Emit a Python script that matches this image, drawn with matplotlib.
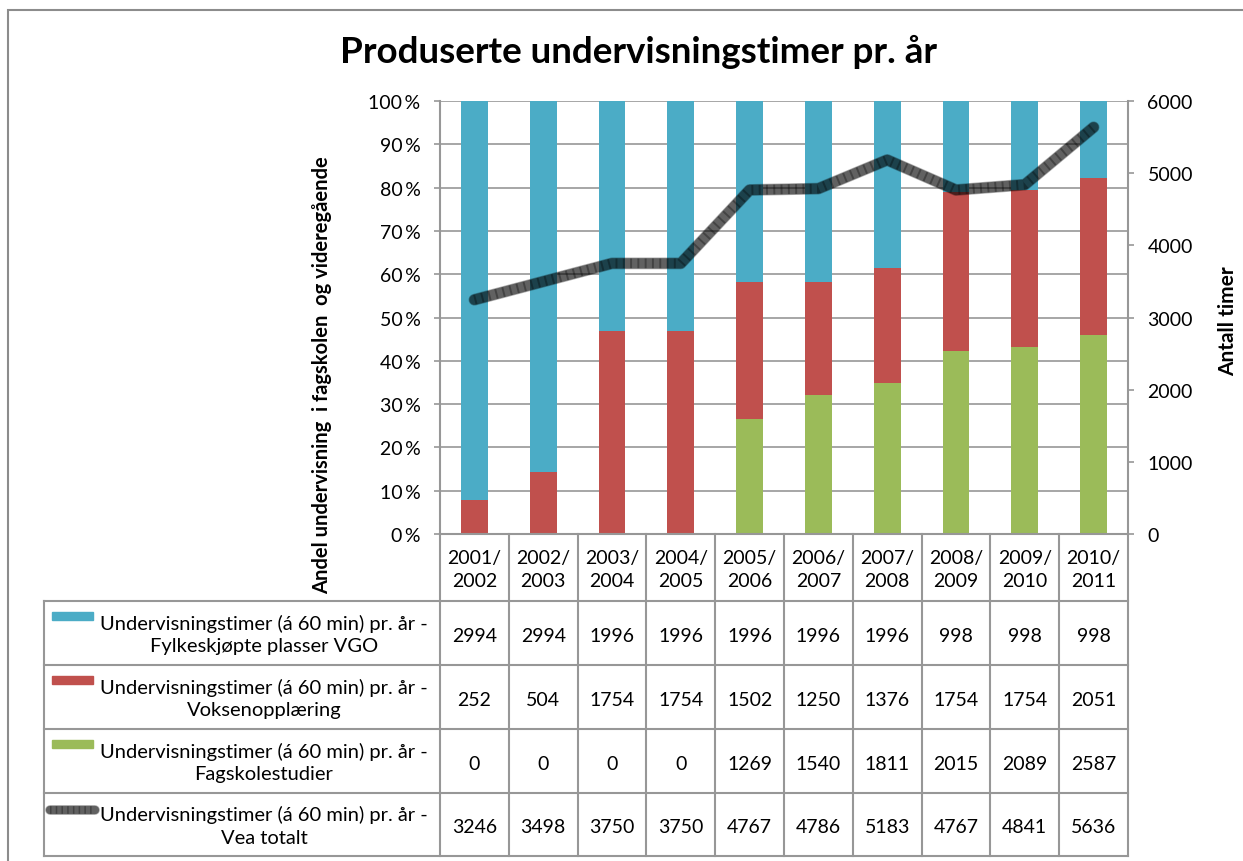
import numpy as np
import matplotlib.pyplot as plt
import matplotlib.patheffects as pe
from matplotlib.patches import Rectangle

plt.rcParams['font.family'] = ['Lato', 'DejaVu Sans']

# data
years = ["2001/\n2002", "2002/\n2003", "2003/\n2004", "2004/\n2005", "2005/\n2006",
         "2006/\n2007", "2007/\n2008", "2008/\n2009", "2009/\n2010", "2010/\n2011"]
vgo = [2994, 2994, 1996, 1996, 1996, 1996, 1996, 998, 998, 998]
voksen = [252, 504, 1754, 1754, 1502, 1250, 1376, 1754, 1754, 2051]
fagskole = [0, 0, 0, 0, 1269, 1540, 1811, 2015, 2089, 2587]
totalt = [3246, 3498, 3750, 3750, 4767, 4786, 5183, 4767, 4841, 5636]

series_names = ["Undervisningstimer (á 60 min) pr. år -\nFylkeskjøpte plasser VGO",
                "Undervisningstimer (á 60 min) pr. år -\nVoksenopplæring",
                "Undervisningstimer (á 60 min) pr. år -\nFagskolestudier",
                "Undervisningstimer (á 60 min) pr. år -\nVea totalt"]

c_blue = '#4BACC6'
c_red = '#C0504D'
c_green = '#9BBB59'
gridc = '#979797'

W, H = 1243, 862


def fx(px):
    return px / W


def fy(py):
    return 1 - py / H


fig = plt.figure(figsize=(W / 100, H / 100), dpi=100)

# outer chart border
fig.add_artist(Rectangle((fx(8), fy(875)), fx(1260) - fx(8), fy(11) - fy(875),
                         transform=fig.transFigure, fill=False, edgecolor='#8c8c8c', lw=1.5))

ax = fig.add_axes([fx(440), fy(535), fx(1128) - fx(440), fy(102) - fy(535)])
ax2 = ax.twinx()

x = np.arange(len(years))
vgo_a = np.array(vgo, dtype=float)
vok_a = np.array(voksen, dtype=float)
fag_a = np.array(fagskole, dtype=float)
tot = vgo_a + vok_a + fag_a

bw = 0.39
ax.bar(x, fag_a / tot, bw, color=c_green, zorder=2)
ax.bar(x, vok_a / tot, bw, bottom=fag_a / tot, color=c_red, zorder=2)
ax.bar(x, vgo_a / tot, bw, bottom=(fag_a + vok_a) / tot, color=c_blue, zorder=2)

ax.set_xlim(-0.5, len(years) - 0.5)
ax.set_ylim(0, 1)
ax.set_yticks(np.arange(0, 1.01, 0.1))
ax.set_yticklabels([f"{int(round(v * 100))}\u2009%" for v in np.arange(0, 1.01, 0.1)], fontsize=14)
ax.set_xticks([])
ax.yaxis.grid(True, color=gridc, lw=1.2)
ax.set_axisbelow(True)
ax.tick_params(axis='y', length=4, color=gridc, width=1.2, pad=10)
for s in ['top', 'right']:
    ax.spines[s].set_visible(False)
for s in ['left', 'bottom']:
    ax.spines[s].set_color(gridc)
    ax.spines[s].set_linewidth(1.5)

# total hours line, secondary axis
ax2.plot(x, totalt, color=(0, 0, 0, 0.45), lw=7.5, solid_capstyle='round', solid_joinstyle='round',
         path_effects=[pe.Stroke(linewidth=8.5, foreground=(0, 0, 0, 0.3)), pe.Normal()], zorder=3)
ax2.plot(x, totalt, color=(0, 0, 0, 0.3), lw=7.0, dashes=(0.2, 0.55), dash_capstyle='butt', zorder=4)
ax2.set_ylim(0, 6000)
ax2.set_yticks(range(0, 6001, 1000))
ax2.tick_params(axis='y', length=4, color=gridc, width=1.2, labelsize=14, pad=10)
for s in ['top', 'left', 'bottom']:
    ax2.spines[s].set_visible(False)
ax2.spines['right'].set_color(gridc)
ax2.spines['right'].set_linewidth(1.5)

# titles and axis labels
fig.text(fx(638), fy(52), "Produserte undervisningstimer pr. år", ha='center', va='center',
         fontsize=26.5, fontweight='bold')
fig.text(fx(322), fy(375), "Andel undervisning  i fagskolen  og videregående", rotation=90,
         ha='center', va='center', fontsize=14.5, fontweight='bold')
fig.text(fx(1228), fy(321), "Antall timer", rotation=90, ha='center', va='center',
         fontsize=15, fontweight='bold')

# data table below the chart
tab = fig.add_axes([fx(44), fy(857), fx(1128) - fx(44), fy(535) - fy(857)])
colw = (1128 - 440) / len(years)
x_left = -0.5 - (440 - 44) / colw
tab.set_xlim(x_left, len(years) - 0.5)
tab.set_ylim(322, 0)
tab.axis('off')


def px2c(px):
    return -0.5 + (px - 440) / colw


row_edges = [0, 67, 131, 195, 259, 322]
for k in range(len(years) + 1):
    tab.plot([k - 0.5, k - 0.5], [0, 322], color=gridc, lw=1.5, clip_on=False)
tab.plot([x_left, x_left], [67, 322], color=gridc, lw=1.5, clip_on=False)
for yy in row_edges[1:]:
    tab.plot([x_left, len(years) - 0.5], [yy, yy], color=gridc, lw=1.5, clip_on=False)

for i, lab in enumerate(years):
    tab.text(i, 35, lab, ha='center', va='center', fontsize=14, linespacing=1.45)

rows = [vgo, voksen, fagskole, totalt]
for r, vals in enumerate(rows):
    top = row_edges[r + 1]
    bot = row_edges[r + 2]
    mid = (top + bot) / 2
    for i, v in enumerate(vals):
        tab.text(i, mid + 2, str(v), ha='center', va='center', fontsize=14)
    tab.text(px2c(100), mid + 1, series_names[r], ha='left', va='center', multialignment='center',
             fontsize=14.5, linespacing=1.4)

key_colors = [c_blue, c_red, c_green]
for r, c in enumerate(key_colors):
    top = row_edges[r + 1]
    tab.add_patch(Rectangle((px2c(52), top + 11), px2c(93) - px2c(52), 8, color=c, clip_on=False))
ly = row_edges[4] + 17
tab.plot([px2c(50), px2c(95)], [ly, ly], color=(0, 0, 0, 0.45), lw=6, solid_capstyle='round',
         path_effects=[pe.Stroke(linewidth=7, foreground=(0, 0, 0, 0.3)), pe.Normal()], clip_on=False)
tab.plot([px2c(50), px2c(95)], [ly, ly], color=(0, 0, 0, 0.3), lw=5.5, dashes=(0.2, 0.55), clip_on=False)

fig.savefig("out.png", dpi=100)
